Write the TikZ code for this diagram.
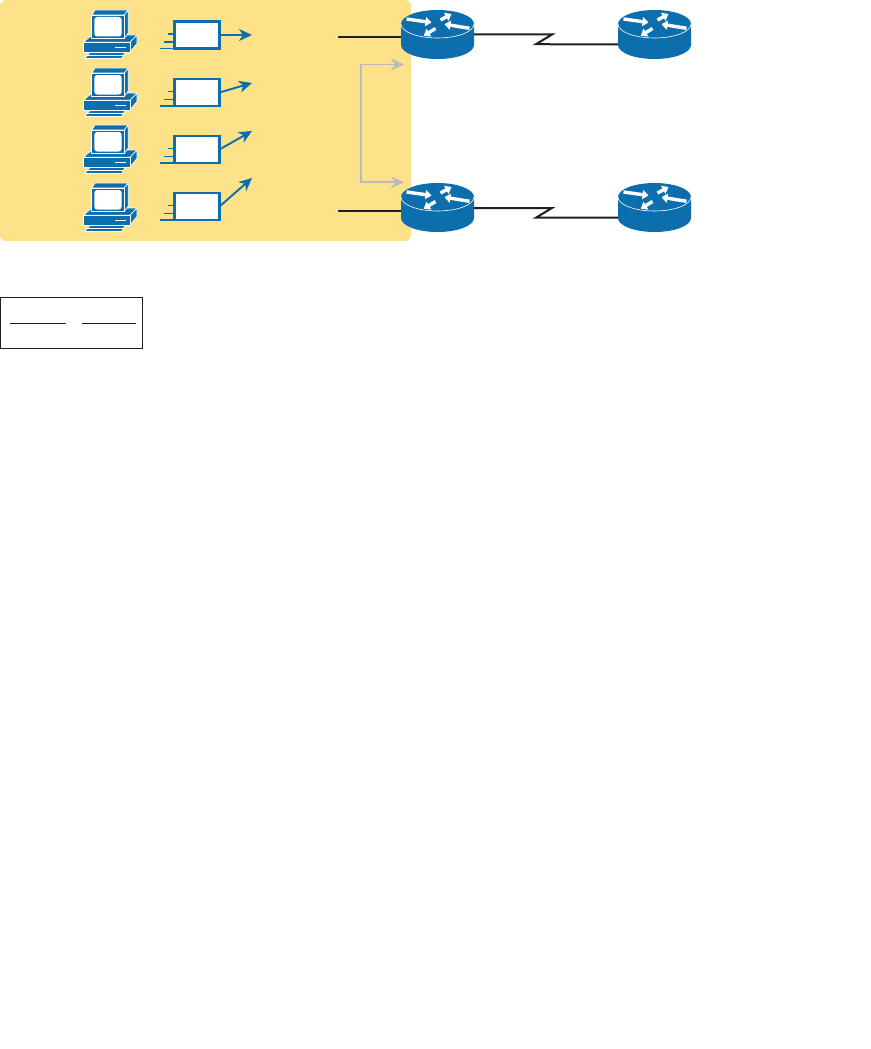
\documentclass[tikz,border=0pt]{standalone}
\usetikzlibrary{arrows.meta, positioning}
\definecolor{netblue}{RGB}{13, 110, 173}
\definecolor{lanyellow}{RGB}{253, 226, 138}
\definecolor{linkblack}{RGB}{35, 31, 32}
\definecolor{pathgray}{RGB}{187, 187, 190}

\tikzset{
    pc/.pic={
        \draw[pcpart] (22,35) -- (67,35) -- (60,42.3) -- (13.3,42.3) -- cycle;
        \draw[pcpart] (60,42.3) -- (67,35) -- (67,43.5) -- (60,52) -- cycle;
        \draw[pcpart] (13.3,42.3) rectangle (60,52);
        \fill[white] (45,46.6) rectangle (56,48.2);
        \draw[pcpart] (21.7,15) -- (25,10) -- (58.3,10) -- (54.3,15) -- cycle;
        \draw[pcpart] (54.3,15) -- (58.3,10) -- (58.3,33) -- (54.3,38.3) -- cycle;
        \draw[pcpart] (21.7,15) rectangle (54.3,38.3);
        \fill[white, rounded corners=3pt] (24.3,17) rectangle (51.7,36.5);
        \draw[pcpart] (14.5,58.5) -- (20,52.5) -- (55,52.5) -- (51.7,58.5) -- cycle;
        \draw[white, line width=0.7pt] (16,55.5) -- (53,55.5);
    },
    router/.pic={
        \fill[netblue] (-36.5,0) -- (-36.5,21) arc[start angle=180, end angle=360, x radius=36.5pt, y radius=14pt] -- (36.5,0) -- cycle;
        \fill[netblue] (0,0) ellipse[x radius=36.5pt, y radius=14pt];
        \draw[white, line width=0.6pt] (-36.5,0) arc[start angle=180, end angle=360, x radius=36.5pt, y radius=14pt];
        \draw[rarrow] (-31,-5) -- (-6,-1.5);
        \draw[rarrow] (3,-4) -- (14,-10);
        \draw[rarrow] (32,4.3) -- (7,0.2);
        \draw[rarrow] (-2,4.5) -- (-13.7,11.7);
    },
    pcpart/.style={draw=white, fill=netblue, line width=0.7pt, line join=round},
    rarrow/.style={white, line width=3.4pt, -{Triangle[length=6pt, width=9pt]}},
}

\begin{document}
\begin{tikzpicture}[x=1pt, y=-1pt,
        lan/.style={fill=lanyellow, rounded corners=6pt, minimum width=411pt, minimum height=241pt, outer sep=0pt},
        pkt/.style={draw=netblue, fill=white, line width=2.2pt, minimum width=45pt, minimum height=27pt, outer sep=0pt},
        rtr/.style={minimum width=73pt, minimum height=49pt, outer sep=0pt, inner sep=0pt},
        legend/.style={draw=linkblack, line width=0.9pt, minimum width=142pt, minimum height=51pt, outer sep=0pt},
        speed/.style={netblue, line width=1.9pt},
        flow/.style={netblue, line width=1.9pt, -{Stealth[length=13pt, width=12pt, inset=4pt]}},
        link/.style={linkblack, line width=2pt},
        backup/.style={pathgray, line width=1.8pt, -{Stealth[length=13pt, width=12pt, inset=4pt]}},
        rule/.style={linkblack, line width=1pt}
    ]
    \useasboundingbox (0,0) rectangle (870,1049);

    \node[lan] (zone) at (205.5,120.5) {};

    % hosts
    \foreach \n/\y in {1/0, 2/58, 3/115, 4/173}
        \pic at (70,\y) {pc};

    % packets
    \node[pkt] (pkt1) at (197,35) {};
    \node[pkt, below=30.5pt of pkt1] (pkt2) {};
    \node[pkt, below=30pt of pkt2] (pkt3) {};
    \node[pkt, below=30pt of pkt3] (pkt4) {};
    \coordinate (tip1) at (252,35);
    \coordinate (tip2) at (252,83);
    \coordinate (tip3) at (252,131);
    \coordinate (tip4) at (252,178);
    \foreach \n in {1,...,4} {
        \draw[speed] ([xshift=-15pt]pkt\n.south west) -- (pkt\n.south west);
        \draw[speed] ([xshift=-11pt, yshift=6.5pt]pkt\n.south west) -- ([yshift=6.5pt]pkt\n.south west);
        \draw[speed] ([xshift=-7pt, yshift=14.5pt]pkt\n.south west) -- ([yshift=14.5pt]pkt\n.south west);
        \draw[flow] (pkt\n.east) -- (tip\n);
    }

    % routers
    \node[rtr] (r1) at (437.5,34.5) {};
    \node[rtr, right=144pt of r1] (r2) {};
    \node[rtr, below=124pt of r1] (r3) {};
    \node[rtr, right=144pt of r3] (r4) {};
    \foreach \n in {r1, r2, r3, r4}
        \pic at ([yshift=10.5pt]\n.center) {router};

    % links
    \coordinate (lan1) at (338,37.5);
    \coordinate (lan3) at (338,211);
    \draw[link] (lan1) -- (lan1 -| r1.west);
    \draw[link] (lan3) -- (lan3 -| r3.west);
    \draw[link] (r1.east) -- ++(78,0) -- ++(-16,9.7) -- ([yshift=-10pt]r2.west);
    \draw[link] ([yshift=-0.5pt]r3.east) -- ++(78,0) -- ++(-16,9.7) -- ([yshift=-10.2pt]r4.west);

    % path choice
    \coordinate (fork1) at (404,64.5);
    \coordinate (fork3) at (404,182.3);
    \draw[backup] (361,123) |- (fork1);
    \draw[backup] (361,123) |- (fork3);

    % legend
    \node[legend] (key) at (71.5,322.5) {};
    \draw[rule] ([xshift=9pt, yshift=-1pt]key.west) -- ([xshift=65pt, yshift=-1pt]key.west);
    \draw[rule] ([xshift=81pt, yshift=-1pt]key.west) -- ([xshift=135pt, yshift=-1pt]key.west);
\end{tikzpicture}
\end{document}
